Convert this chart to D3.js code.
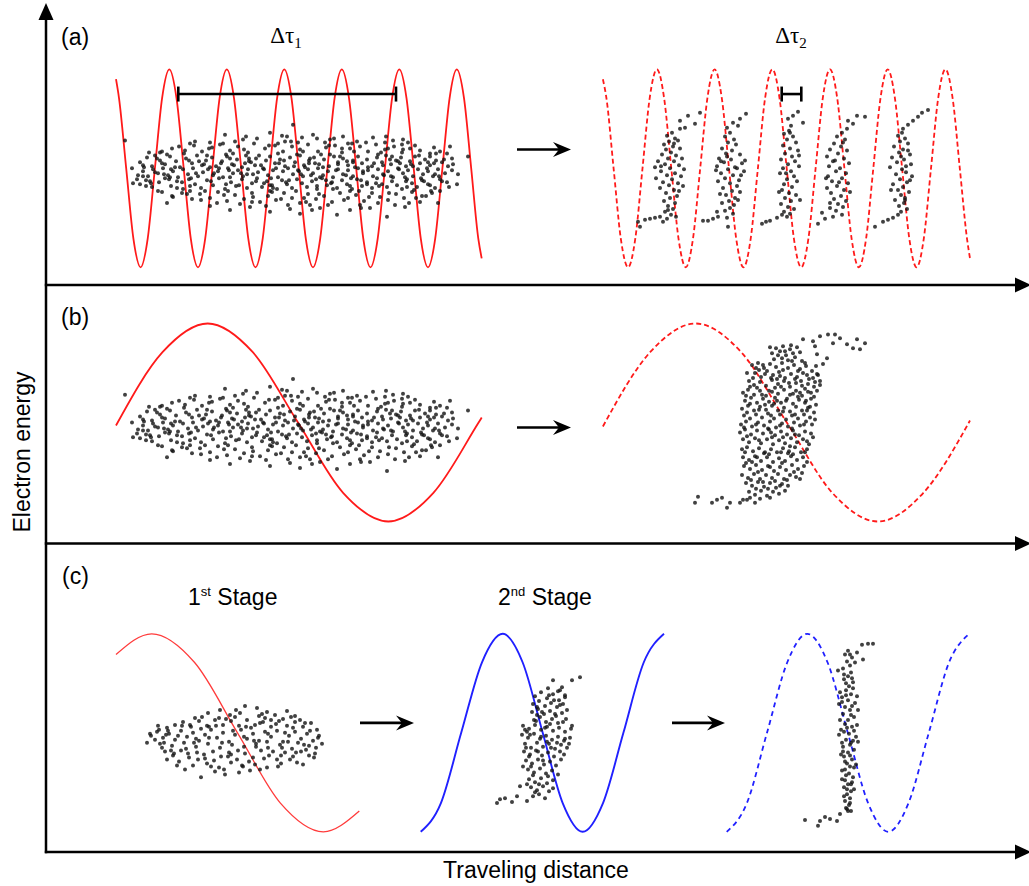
<!DOCTYPE html>
<html>
<head>
<meta charset="utf-8">
<script src="https://cdn.jsdelivr.net/npm/d3@7"></script>
<style>
  body { margin: 0; background: #fff; }
  text { font-family: Arial, "Liberation Sans", sans-serif; fill: #000; }
  .greek { font-family: "Times New Roman", "Liberation Serif", serif; }
</style>
</head>
<body>
<div id="chart"></div>
<script>
// ---- wave fields: [distance, energy] (energy: +100 = crest, -100 = trough)
var waveA1 = [[70,90],[73,71],[80.2,0],[87.4,-71],[94.6,-100],[101.7,-71],[108.9,0],[116.1,71],[123.3,100],[130.5,71],[137.7,0],[144.8,-71],[152,-100],[159.2,-71],[166.4,0],[173.6,71],[180.8,100],[188,71],[195.2,0],[202.3,-71],[209.5,-100],[216.7,-71],[223.9,0],[231.1,71],[238.3,100],[245.5,71],[252.7,0],[259.8,-71],[267,-100],[274.2,-71],[281.4,0],[288.6,71],[295.8,100],[303,71],[310.2,0],[317.3,-71],[324.5,-100],[331.7,-71],[338.9,0],[346.1,71],[353.3,100],[360.5,71],[367.7,0],[374.8,-71],[382,-100],[389.2,-71],[396.4,0],[403.6,71],[410.8,100],[418,71],[425.2,0],[432.3,-71],[435.7,-91]];
var waveA2 = [[556.9,90],[560.4,71],[567.6,0],[574.8,-71],[582.1,-100],[589.3,-71],[596.5,0],[603.7,71],[610.9,100],[618.1,71],[625.3,0],[632.5,-71],[639.8,-100],[647,-71],[654.2,0],[661.4,71],[668.6,100],[675.8,71],[683,0],[690.2,-71],[697.5,-100],[704.7,-71],[711.9,0],[719.1,71],[726.3,100],[733.5,71],[740.7,0],[747.9,-71],[755.2,-100],[762.4,-71],[769.6,0],[776.8,71],[784,100],[791.2,71],[798.4,0],[805.6,-71],[812.9,-100],[820.1,-71],[827.3,0],[834.5,71],[841.7,100],[848.9,71],[856.1,0],[863.3,-71],[870.6,-100],[877.8,-71],[885,0],[892.2,71],[899.4,100],[906.6,71],[913.8,0],[921,-71],[924,-91]];
var waveB1 = [[70,-3],[116.5,71],[161.7,100],[206.8,71],[252,0],[297.1,-71],[342.3,-100],[387.4,-71],[432.6,0],[435.7,5]];
var waveB2 = [[556.9,-4],[604.1,71],[649.7,100],[695.2,71],[740.8,0],[786.3,-71],[831.9,-100],[877.4,-71],[922.9,0],[924,2]];
var waveC1 = [[70,79],[105.7,100],[148.6,71],[191.5,0],[234.4,-71],[277.3,-100],[313.3,-79]];
var waveC2 = [[374.7,-100],[394.9,-71],[415.2,0],[435.9,71],[456.7,100],[476.7,71],[496.7,0],[516.7,-71],[536.7,-100],[557,-71],[577.4,0],[597.7,71],[618,100]];
var waveC3 = [[680.7,-100],[700.9,-71],[721,0],[741.2,71],[761.3,100],[781.6,71],[801.8,0],[822.1,-71],[842.3,-100],[862.5,-71],[882.8,0],[903,71],[923.3,100]];

// ---- electron bunches: centre [distance, energy] and particle offsets [d distance, d energy]
var bunchInCenter = [244, -4];
var bunchIn = [
  [-65,38],[-44,36],[-33,34],[-20,40],[-8,37],[3,48],[12,35],[23,38],[27,34],[40,33],[53,36],[67,31],[83,35],[103,32],[113,33],[-80,30],[-55,31],[-5,31],[35,30],[95,30],[-165,32],
  [-130,20],[-118,24],[-105,22],[-96,27],[-88,21],[-78,25],[-70,28],[-60,22],[-52,26],[-42,20],[-36,29],[-25,24],[-15,27],[-7,21],[2,26],[10,23],[18,28],[28,21],[36,25],[45,27],[52,20],[60,24],[70,26],[78,21],[86,28],[95,23],[104,26],[112,20],[120,24],[130,22],[140,19],[150,21],[-123,18],[-64,18],[-12,19],[40,18],[88,18],[125,27],[-100,29],[8,30],[58,29],[118,30],[144,25],[160,26],[178,16],[162,14],
  [-150,10],[-143,15],[-138,6],[-130,12],[-125,8],[-120,16],[-114,11],[-110,5],[-104,14],[-98,9],[-93,17],[-88,7],[-84,12],[-78,15],[-74,6],[-68,11],[-63,16],[-58,8],[-53,13],[-48,5],[-44,17],[-39,10],[-34,14],[-29,7],[-24,12],[-20,16],[-15,9],[-10,13],[-5,6],[0,15],[5,10],[10,17],[14,7],[19,12],[24,15],[29,8],[34,13],[39,6],[44,16],[48,10],[53,14],[58,7],[63,12],[68,16],[72,9],[77,13],[82,6],[87,15],[92,10],[96,17],[101,8],[106,12],[111,15],[116,6],[120,11],[125,16],[130,9],[135,13],[140,7],[146,12],[152,10],[158,6],[-146,5],[-135,17],[-80,5],[-45,9],[15,5],[65,5],[110,9],[140,16],
  [-152,-3],[-147,1],[-142,-4],[-137,3],[-132,-1],[-127,4],[-122,-3],[-117,1],[-112,-5],[-107,3],[-102,-2],[-97,4],[-92,-4],[-87,0],[-82,3],[-77,-3],[-72,1],[-67,-5],[-62,4],[-57,-1],[-52,2],[-47,-4],[-42,3],[-37,-2],[-32,0],[-27,4],[-22,-3],[-17,2],[-12,-5],[-7,1],[-2,4],[3,-2],[8,2],[13,-4],[18,3],[23,-1],[28,4],[33,-3],[38,1],[43,-5],[48,3],[53,-2],[58,2],[63,-4],[68,4],[73,-1],[78,2],[83,-4],[88,3],[93,-2],[98,1],[103,-5],[108,4],[113,-1],[118,2],[123,-4],[128,3],[133,-2],[138,1],[143,-4],[148,3],[155,-1],[162,2],[-157,-11],[-147,-4],
  [-150,-12],[-144,-8],[-138,-15],[-131,-10],[-125,-6],[-119,-14],[-113,-9],[-107,-17],[-101,-7],[-95,-12],[-89,-16],[-83,-8],[-77,-13],[-71,-6],[-65,-17],[-59,-10],[-54,-14],[-48,-7],[-43,-16],[-38,-11],[-33,-6],[-28,-15],[-23,-9],[-18,-13],[-13,-17],[-8,-8],[-3,-12],[2,-16],[7,-7],[12,-11],[17,-15],[22,-9],[27,-17],[32,-6],[37,-13],[42,-10],[47,-16],[52,-8],[57,-12],[62,-17],[67,-7],[72,-14],[77,-10],[82,-16],[87,-6],[92,-12],[97,-15],[102,-9],[107,-13],[112,-17],[117,-7],[122,-11],[127,-15],[132,-8],[138,-12],[145,-16],[150,-7],[157,-10],[-60,-5],[30,-5],[115,-5],[-120,-5],
  [-128,-20],[-118,-24],[-108,-21],[-98,-27],[-90,-22],[-80,-26],[-72,-20],[-63,-29],[-55,-23],[-46,-27],[-38,-21],[-30,-30],[-22,-24],[-14,-28],[-6,-21],[2,-26],[10,-31],[18,-22],[26,-27],[34,-24],[42,-30],[50,-21],[58,-26],[66,-23],[74,-29],[82,-21],[90,-25],[98,-28],[106,-22],[114,-26],[122,-20],[132,-24],[142,-21],[150,-19],[-100,-19],[-20,-19],[60,-19],[-50,-32],[20,-33],[70,-33],[130,-30],[148,-31],
  [-80,-34],[-60,-38],[-40,-35],[-20,-40],[0,-37],[10,-42],[30,-36],[47,-43],[60,-38],[80,-36],[97,-45],[115,-35],[-123,-31],[-2,-33],[167,-12],
  [-135,0],[-128,9],[-121,-7],[-115,5],[-108,-10],[-101,12],[-94,-1],[-86,8],[-79,-9],[-71,4],[-64,-12],[-56,7],[-49,-1],[-41,11],[-34,-9],[-26,3],[-19,-6],[-11,9],[-4,-10],[4,6],[11,-2],[19,9],[26,-7],[33,5],[41,-11],[48,8],[56,-3],[63,10],[71,-8],[78,5],[86,-11],[93,7],[101,-4],[108,11],[116,-9],[123,6],[131,-6],[138,10],[145,-2],[152,-9],[-140,-9],[-100,-14],[-60,14],[-20,-13],[20,14],[60,-14],[100,13],[140,-13]
];
var bunchInExtra = [
  [-147,7],[-139,-11],[-133,14],[-126,-2],[-119,3],[-113,-16],[-106,19],[-99,-6],[-91,11],[-85,-19],[-81,24],[-76,-1],[-69,9],[-66,-23],[-61,2],[-57,19],[-51,-13],[-46,23],[-43,-2],[-37,-25],[-35,7],[-31,17],[-26,-11],[-21,27],[-18,-20],[-14,4],[-9,-27],[-6,12],[-1,-8],[1,31],[6,-19],[9,1],[13,21],[16,-30],[21,-3],[25,9],[29,-22],[31,18],[36,-8],[39,27],[43,-17],[46,2],[50,16],[54,-28],[57,11],[61,-6],[64,21],[69,-19],[73,1],[76,30],[79,-25],[84,9],[89,-14],[91,20],[94,-3],[99,-21],[102,16],[105,-33],[109,3],[113,23],[117,-15],[121,8],[126,-26],[129,17],[134,-9],[137,4],[141,-19],[146,19],[149,-4],[154,13],[159,-15],[163,8],[168,-2],
  [-158,4],[-153,-7],[-141,20],[-117,-25],[-95,31],[-73,-31],[-47,33],[-24,-34],[-3,36],[22,-38],[44,34],[71,-36],[96,36],[119,-31],[-132,-19],[-111,26],[-89,-28],[-67,29],[-38,-30],[-12,29],[14,-26],[38,-33],[62,29],[88,-31],[112,28],[136,-24],[157,19],[-144,-14],[-128,21],[-103,-22],[-83,17],[-62,-19],[-41,14],[-17,-16],[7,18],[27,-14],[52,24],[77,-12],[98,24],[124,-18],[144,9]
];

// (a) after compression: five micro-bunches
var microCenters = [[624,-2],[684,-2],[741,-2],[794,-2],[856,-2]];
var micro1 = [[10,50],[18,55],[30,58],[15,43],[25,47],[10,42],[2,38],[-3,35],[5,32],[-1,29],[8,30],[-6,26],[3,24],[-4,21],[10,22],[1,18],[-8,16],[6,15],[-2,12],[12,12],[-12,9],[4,9],[-5,6],[9,5],[-15,3],[0,2],[14,1],[-9,-1],[5,-3],[-3,-5],[11,-6],[-14,-8],[2,-9],[-7,-12],[8,-13],[-1,-15],[13,-16],[-10,-18],[4,-20],[-4,-23],[7,-26],[0,-28],[-6,-31],[5,-33],[-2,-36],[3,-39],[-5,-42],[1,-45],[6,-47],[-3,-49],[-32,-52],[-25,-50],[-20,-49],[-15,-48],[-10,-47],[-30,-57],[-7,-52],[4,27],[-9,4],[9,-21],[-2,-40]];
var micro2 = [[-3,43],[3,48],[10,52],[16,57],[8,45],[0,38],[-5,34],[4,31],[-2,28],[6,26],[-8,22],[2,20],[-4,17],[10,16],[-11,12],[1,11],[-6,8],[12,7],[-13,4],[5,3],[-2,1],[14,-1],[-9,-3],[3,-5],[-5,-8],[9,-10],[-12,-11],[0,-13],[7,-16],[-7,-18],[2,-21],[10,-22],[-4,-25],[5,-28],[-1,-31],[-8,-33],[4,-35],[0,-38],[-5,-41],[3,-44],[8,-30],[-10,-24],[11,-5],[-14,0],[15,10],[-27,-51],[-22,-51],[-13,-42],[-2,-57],[-12,-47],[-3,-48],[-17,-49],[7,2],[-3,14],[-9,9]];
var micro3 = [[1,52],[11,59],[6,55],[16,48],[4,45],[2,40],[-3,37],[6,34],[0,31],[9,28],[-4,25],[3,22],[11,20],[-2,17],[5,14],[-6,11],[8,9],[1,6],[12,4],[-4,2],[4,-1],[-7,-3],[7,-6],[0,-9],[10,-11],[-3,-14],[5,-17],[-5,-20],[2,-23],[9,-25],[-2,-28],[4,-31],[-6,-34],[1,-37],[7,-39],[-3,-42],[3,-44],[13,-30],[12,15],[-8,-22],[-25,-54],[-17,-51],[-10,-48],[-5,-45],[-21,-52],[0,-47],[3,38],[-1,-3]];
var micro4 = [[8,50],[17,55],[25,54],[7,42],[13,47],[2,38],[-3,34],[5,31],[-6,27],[1,24],[-10,21],[7,20],[-2,17],[-13,14],[4,12],[-7,9],[9,7],[-11,4],[0,2],[-4,-1],[6,-3],[-12,-6],[2,-8],[-8,-11],[8,-13],[-3,-16],[-13,-18],[4,-20],[-9,-23],[1,-26],[-6,-29],[6,-31],[-2,-34],[3,-37],[-10,-33],[10,-22],[-5,10],[-14,-8],[-22,-54],[-18,-43],[-10,-38],[-7,-47],[2,-45],[-15,-49],[-4,-41],[3,28],[-1,-12]];
var micro5 = [[1,42],[11,50],[20,58],[26,61],[6,46],[16,54],[0,38],[-4,35],[3,32],[-2,29],[6,27],[-8,24],[1,21],[-3,18],[8,16],[-10,13],[2,11],[-5,8],[9,6],[-12,3],[0,1],[4,-2],[-6,-4],[10,-6],[-2,-9],[5,-12],[-9,-14],[1,-17],[-4,-20],[7,-22],[-1,-25],[3,-28],[-7,-30],[2,-33],[-3,-36],[5,-39],[-1,-42],[8,-10],[-11,-20],[6,20],[-27,-57],[-19,-52],[-9,-48],[-14,-50],[-4,-45],[3,-30],[-1,14],[4,4]];

// (b) after compression: one rotated bunch
var bunchBOutCenter = [734, 0];
var bunchBOut = [
  [-8,70],[-4,75],[0,72],[3,77],[6,68],[10,74],[13,70],[17,76],[20,71],[-6,64],[2,65],[8,63],[15,66],[22,62],[-10,76],[11,78],[5,72],[-2,68],
  [-28,58],[-22,60],[-16,55],[-10,59],[-4,56],[2,60],[8,55],[14,58],[20,54],[26,57],[32,52],[38,48],[-25,50],[-19,46],[-13,52],[-7,48],[-1,51],[5,45],[11,49],[17,46],[23,50],[29,44],[35,41],[-31,42],[-26,38],[-20,41],[-14,37],[-8,43],[-2,39],[4,42],[10,36],[16,40],[22,37],[28,39],[34,36],[40,38],[-30,36],[0,47],[25,60],[-17,58],[12,62],[36,57],[-5,35],[18,52],[-24,55],
  [-37,30],[-32,33],[-26,28],[-20,32],[-14,27],[-8,31],[-2,29],[4,33],[10,28],[16,32],[22,27],[28,31],[34,26],[37,32],[-35,22],[-29,25],[-23,20],[-17,24],[-11,21],[-5,25],[1,20],[7,24],[13,19],[19,23],[25,20],[31,24],[36,18],[-38,14],[-32,17],[-26,12],[-20,16],[-14,13],[-8,17],[-2,12],[4,15],[10,11],[16,16],[22,12],[28,15],[34,10],[-36,7],[-30,4],[-24,8],[-18,5],[-12,9],[-6,4],[0,8],[6,3],[12,7],[18,4],[24,8],[30,5],[35,3],[-3,22],[20,30],[-15,18],[26,22],
  [-39,-2],[-34,1],[-28,-4],[-22,0],[-16,-3],[-10,1],[-4,-5],[2,-1],[8,-4],[14,0],[20,-3],[26,1],[32,-2],[-40,-10],[-35,-7],[-29,-12],[-23,-8],[-17,-11],[-11,-7],[-5,-13],[1,-9],[7,-12],[13,-8],[19,-13],[25,-9],[31,-11],[-37,-17],[-31,-20],[-25,-16],[-19,-21],[-13,-17],[-7,-22],[-1,-18],[5,-21],[11,-16],[17,-20],[23,-17],[29,-22],[-38,-27],[-33,-25],[-27,-29],[-21,-26],[-15,-30],[-9,-27],[-3,-30],[3,-26],[9,-29],[15,-25],[21,-30],[27,-27],[33,-15],[-8,-15],[10,-24],
  [-37,-35],[-31,-38],[-25,-34],[-19,-39],[-13,-35],[-7,-40],[-1,-36],[5,-39],[11,-34],[17,-38],[23,-35],[27,-40],[-36,-44],[-30,-47],[-24,-43],[-18,-48],[-12,-44],[-6,-49],[0,-45],[6,-48],[12,-43],[18,-47],[24,-44],[-38,-53],[-32,-56],[-26,-52],[-20,-57],[-14,-53],[-8,-56],[-2,-52],[4,-57],[10,-53],[16,-55],[22,-51],[-28,-40],[8,-31],[-16,-31],[20,-57],
  [-34,-61],[-28,-64],[-22,-60],[-16,-65],[-10,-61],[-4,-66],[2,-62],[8,-64],[-31,-70],[-25,-73],[-19,-69],[-13,-74],[-7,-70],[-1,-72],[5,-69],[-20,-77],[-10,-76],[-30,-76],
  [23,84],[33,82],[35,77],[40,87],[48,89],[55,89],[53,80],[60,85],[67,79],[73,75],[77,84],[85,80],[80,74],[37,69],[47,65],[43,59],[40,42],[37,49],
  [-85,-81],[-82,-75],[-68,-81],[-63,-78],[-58,-76],[-50,-81],[-40,-81],[-37,-78],[-33,-78],[-25,-81],[-53,-86]
];
var bunchBOutExtra = [
  [-33,50],[-21,53],[-9,45],[3,53],[15,44],[27,48],[33,45],[-27,45],[-15,49],[-3,44],[9,40],[21,42],[31,30],[-34,27],[-23,35],[-11,32],[1,36],[13,29],[25,34],[-30,19],[-18,28],[-6,19],[6,22],[18,26],[30,16],[-33,10],[-21,13],[-9,7],[3,11],[15,8],[27,12],[-36,-5],[-24,-2],[-12,-6],[0,-3],[12,-6],[24,-2],[-33,-14],[-21,-18],[-9,-10],[3,-15],[15,-12],[27,-19],[-35,-30],[-23,-35],[-11,-32],[1,-30],[13,-32],[25,-30],[-34,-41],[-22,-50],[-10,-45],[2,-41],[14,-50],[-29,-58],[-17,-60],[-5,-59],[7,-58],[-24,-67],[-12,-67],[0,-64]
];

// (c) staged compression
var stage1Center = [189, -7];
var stage1 = [
  [10,34],[22,32],[32,28],[52,29],[-27,27],[-5,25],[40,25],[60,24],[-15,30],[30,22],
  [-60,15],[-52,18],[-44,13],[-36,19],[-28,14],[-20,20],[-12,15],[-4,19],[4,14],[12,20],[20,15],[28,18],[36,13],[44,19],[52,14],[60,18],[68,13],[76,17],[-68,12],[-76,10],[-40,22],[0,23],[24,24],[48,21],
  [-84,4],[-78,8],[-72,2],[-66,6],[-60,0],[-54,9],[-48,3],[-42,7],[-36,-1],[-30,5],[-24,10],[-18,2],[-12,7],[-6,-2],[0,5],[6,10],[12,1],[18,6],[24,-1],[30,8],[36,3],[42,9],[48,-2],[54,4],[60,8],[66,1],[72,6],[78,-1],[84,4],[87,-4],[-88,-3],[-75,-4],[-63,-6],[-51,-3],[-39,-7],[-27,-4],[-15,-8],[-3,-5],[9,-7],[21,-4],[33,-8],[45,-5],[57,-9],[69,-5],[81,-8],
  [-70,-12],[-62,-16],[-54,-11],[-46,-18],[-38,-13],[-30,-19],[-22,-12],[-14,-17],[-6,-13],[2,-20],[10,-14],[18,-18],[26,-11],[34,-16],[42,-20],[50,-13],[58,-17],[66,-12],[74,-16],[-56,-22],[-42,-26],[-28,-24],[-16,-28],[-4,-23],[8,-27],[20,-25],[32,-28],[46,-24],[62,-23],[-68,-20],[80,-14],
  [-34,-38],[-10,-35],[4,-33],[25,-30],[68,-25],[-20,-32],[-50,-30]
];
var stage1Extra = [
  [-80,0],[-73,-8],[-67,9],[-61,-14],[-57,4],[-49,-9],[-45,15],[-41,-3],[-34,11],[-31,-15],[-26,2],[-21,-21],[-19,14],[-13,-3],[-9,21],[-7,-17],[-2,9],[3,-11],[5,27],[9,3],[14,-22],[16,12],[21,-7],[25,17],[29,-19],[33,6],[38,-12],[41,16],[46,-16],[50,7],[55,-20],[58,12],[63,-3],[65,20],[71,-10],[75,9],[79,-18],[83,2],[-85,6],[-77,14],[-71,-3],[-64,-11],[-53,14],[-47,-14],[-33,23],[-24,-27],[-11,-30],[1,30],[15,-31],[27,26],[43,-27],[56,23],[70,17],[82,10],[-58,-26],[-37,-20],[-16,22],[7,-26],[36,20],[61,-13],[-69,5],[-39,1],[-4,-15],[19,-1],[47,-8],[74,-6],[-26,13],[11,13],[32,-2],[53,-2]
];
var stage2Center = [499, -7];
var stage2 = [
  [35,63],[27,60],[17,53],[8,60],[15,50],[20,45],[3,52],
  [-10,44],[-4,48],[2,42],[8,46],[14,40],[20,43],[-12,36],[-6,39],[0,34],[6,37],[12,33],[18,36],[22,30],[-13,28],[-7,31],[-1,26],[5,29],[11,24],[17,27],[21,21],[-11,20],[-5,23],[1,18],[7,21],[13,17],[4,45],[-8,25],
  [-22,14],[-16,11],[-10,15],[-4,10],[2,13],[8,9],[14,12],[20,8],[26,11],[-23,5],[-17,2],[-11,6],[-5,1],[1,4],[7,0],[13,3],[19,-1],[25,2],[27,14],[-20,-4],[-14,-8],[-8,-3],[-2,-7],[4,-4],[10,-9],[16,-5],[-18,8],[22,-8],
  [-21,-12],[-15,-15],[-9,-11],[-3,-16],[3,-13],[9,-17],[15,-12],[-19,-21],[-13,-24],[-7,-20],[-1,-25],[5,-22],[11,-26],[-17,-30],[-11,-33],[-5,-29],[1,-34],[7,-31],[13,-35],[-22,-27],
  [-16,-40],[-10,-43],[-4,-39],[2,-44],[8,-41],[-14,-48],[-8,-51],[-2,-47],[4,-52],[-12,-57],[-6,-55],[0,-59],[-18,-45],
  [-48,-64],[-40,-59],[-33,-63],[-28,-57],[-25,-47],[-18,-62],[-45,-60],
  [-15,5],[-7,-12],[5,16],[12,-3],[-19,-8],[18,18],[-3,28],[9,40],[-12,-36],[6,-8],[-9,19],[16,-20],[-2,-21],[3,-37],[-6,-45],[20,1],[24,-4],[-20,10],[0,12],[10,26],[15,35],[-4,3],[-14,-27],[8,-49],[-10,-53],[-16,-17],[2,-2],[19,-15],[-8,33],[13,49]
];
var stage3Center = [802, -7];
var stage3 = [
  [14,96],[20,97],[25,97],[9,88],[15,81],[7,78],[-10,70],
  [0,90],[-3,86],[4,83],[-1,79],[2,75],[-5,72],[3,68],[0,64],[-4,61],[5,58],[1,54],[-2,50],[3,46],[-6,43],[0,40],[7,37],[-3,33],[2,30],[-5,26],[6,23],[0,20],[-3,16],[4,13],[-7,10],[1,6],[8,3],[-2,0],[3,-3],[-5,-7],[6,-10],[0,-13],[-4,-17],[4,-20],[-1,-24],[2,-27],[-6,-31],[1,-34],[5,-38],[-3,-41],[0,-45],[-4,-48],[3,-52],[-1,-55],[2,-59],[-3,-62],[1,-66],[-2,-69],[3,-72],
  [-8,48],[9,44],[-9,36],[10,30],[-8,20],[9,15],[-9,5],[10,-2],[-7,-15],[8,-25],[-6,-40],[6,-50],[-2,45],[4,34],[-1,12],[2,-5],[-3,-30],[3,-45],
  [2,86],[-4,66],[5,52],[-6,38],[3,25],[-4,8],[5,-1],[-5,-12],[2,-16],[-3,-22],[6,-28],[-2,-36],[4,-43],[-1,-50],[-4,-57],[2,-64],[0,-72],[4,62],[-2,57],[6,9],[-6,-3],
  [-43,-81],[-30,-87],[-28,-82],[-23,-78],[-18,-80],[-11,-82],[-8,-75],[-1,-70]
];

// markers: bunch-length bars [from, to] at energy 75, arrows [from, to, energy]
var tauSpans = [[132.3, 350], [735.7, 755.3]];
var tauEnergy = 75;
var arrowsA = [[471, 525, 19]];
var arrowsB = [[471, 525, -5]];
var arrowsC = [[314, 368, 10], [626, 679, 10]];

var svgWidth = 1029, svgHeight = 886;
var svg = d3.select("#chart").append("svg")
  .attr("width", svgWidth)
  .attr("height", svgHeight);

// distance axis shared by the three panels, one energy scale per panel
var x = d3.scaleLinear().domain([0, 983]).range([46, 1029]);
function energyScale(mid) {
  return d3.scaleLinear().domain([-100, 100]).range([mid + 99, mid - 99]);
}
var yA = energyScale(168.3);
var yB = energyScale(422.5);
var yC = energyScale(732.8);

function drawWave(y, pts, color, width, dash) {
  var line = d3.line()
    .x(d => x(d[0]))
    .y(d => y(d[1]))
    .curve(d3.curveMonotoneX);
  svg.append("path")
    .datum(pts)
    .attr("d", line)
    .attr("fill", "none")
    .attr("stroke", color)
    .attr("stroke-width", width)
    .attr("stroke-dasharray", dash);
}

function drawBunch(y, center, pts) {
  svg.append("g")
    .selectAll("circle")
    .data(pts)
    .enter()
    .append("circle")
    .attr("cx", d => x(center[0] + d[0]))
    .attr("cy", d => y(center[1] + d[1]))
    .attr("r", 2)
    .attr("fill", "#111")
    .attr("fill-opacity", 0.8);
}

function drawArrow(y, a) {
  var x0 = x(a[0]), x1 = x(a[1]), yy = y(a[2]);
  svg.append("line")
    .attr("x1", x0).attr("y1", yy)
    .attr("x2", x1 - 8).attr("y2", yy)
    .attr("stroke", "#000").attr("stroke-width", 2.6);
  svg.append("path")
    .attr("d", `M${x1},${yy} L${x1 - 18},${yy - 7.5} L${x1 - 12},${yy} L${x1 - 18},${yy + 7.5} Z`)
    .attr("fill", "#000");
}

// frame: energy axis on the left, distance axis under each panel
var frame = svg.append("g");
var panelFloors = [285, 543.5, 852];
frame.append("line")
  .attr("x1", x(0)).attr("y1", 853.2)
  .attr("x2", x(0)).attr("y2", 16)
  .attr("stroke", "#000").attr("stroke-width", 2.5);
frame.append("path")
  .attr("d", `M${x(0)},3 L${x(0) - 7.5},20 L${x(0) + 7.5},20 Z`)
  .attr("fill", "#000");
panelFloors.forEach(function (py) {
  frame.append("line")
    .attr("x1", x(0) - 1.2).attr("y1", py)
    .attr("x2", 1018).attr("y2", py)
    .attr("stroke", "#000").attr("stroke-width", 2.5);
  frame.append("path")
    .attr("d", `M1031,${py} L1015,${py - 7.5} L1015,${py + 7.5} Z`)
    .attr("fill", "#000");
});

// panel (a)
drawWave(yA, waveA1, "#ff1a1a", 1.8, null);
drawBunch(yA, bunchInCenter, bunchIn.concat(bunchInExtra));
drawWave(yA, waveA2, "#ff1a1a", 1.8, "5,3");
[micro1, micro2, micro3, micro4, micro5].forEach(function (m, i) {
  drawBunch(yA, microCenters[i], m);
});
tauSpans.forEach(function (s) {
  var yy = yA(tauEnergy);
  svg.append("line")
    .attr("x1", x(s[0])).attr("y1", yy).attr("x2", x(s[1])).attr("y2", yy)
    .attr("stroke", "#000").attr("stroke-width", 2.6);
  [s[0], s[1]].forEach(function (v) {
    svg.append("line")
      .attr("x1", x(v)).attr("y1", yy - 7.5).attr("x2", x(v)).attr("y2", yy + 7.5)
      .attr("stroke", "#000").attr("stroke-width", 2.6);
  });
});
arrowsA.forEach(a => drawArrow(yA, a));

// panel (b)
drawWave(yB, waveB1, "#ff1a1a", 1.8, null);
drawBunch(yB, bunchInCenter, bunchIn.concat(bunchInExtra));
drawWave(yB, waveB2, "#ff1a1a", 1.8, "5,3");
drawBunch(yB, bunchBOutCenter, bunchBOut.concat(bunchBOutExtra));
arrowsB.forEach(a => drawArrow(yB, a));

// panel (c)
drawWave(yC, waveC1, "#ff3b3b", 1.3, null);
drawBunch(yC, stage1Center, stage1.concat(stage1Extra));
drawWave(yC, waveC2, "#2020ff", 1.9, null);
drawBunch(yC, stage2Center, stage2);
drawWave(yC, waveC3, "#2020ff", 1.8, "5,4");
drawBunch(yC, stage3Center, stage3);
arrowsC.forEach(a => drawArrow(yC, a));

// labels
var labels = svg.append("g").style("font-size", "23px");
labels.append("text").attr("x", 61).attr("y", 45).text("(a)");
labels.append("text").attr("x", 61).attr("y", 325).text("(b)");
labels.append("text").attr("x", 62).attr("y", 584).text("(c)");

function tauLabel(cx, sub) {
  var t = labels.append("text")
    .attr("class", "greek")
    .attr("x", cx).attr("y", 43)
    .attr("text-anchor", "middle");
  t.append("tspan").text("\u0394\u03c4");
  t.append("tspan").attr("dy", 5).style("font-size", "15px").text(sub);
}
tauLabel(286, "1");
tauLabel(791, "2");

function stageLabel(x0, num, suf) {
  var t = labels.append("text").attr("x", x0).attr("y", 605);
  t.append("tspan").text(num);
  t.append("tspan").attr("dy", -9).style("font-size", "13px").text(suf);
  t.append("tspan").attr("dy", 9).text(" Stage");
}
stageLabel(188, "1", "st");
stageLabel(498, "2", "nd");

labels.append("text")
  .attr("transform", "translate(30, 452) rotate(-90)")
  .attr("text-anchor", "middle")
  .text("Electron energy");
labels.append("text")
  .attr("x", 536).attr("y", 878)
  .attr("text-anchor", "middle")
  .text("Traveling distance");
</script>
</body>
</html>
